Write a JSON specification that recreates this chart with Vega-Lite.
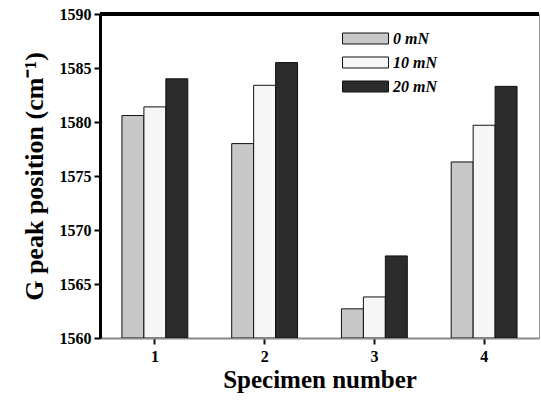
{
  "$schema": "https://vega.github.io/schema/vega-lite/v6.json",
  "width": 439,
  "height": 324,
  "autosize": {"type": "none"},
  "padding": {"left": 100, "top": 14, "right": 2, "bottom": 62},
  "background": "white",
  "config": {
    "view": {"stroke": "#999999", "strokeWidth": 1},
    "font": "Liberation Serif"
  },
  "data": {
    "values": [
      {"Specimen": "1", "Load": "0 mN", "G": 1580.6},
      {"Specimen": "1", "Load": "10 mN", "G": 1581.4},
      {"Specimen": "1", "Load": "20 mN", "G": 1584.0},
      {"Specimen": "2", "Load": "0 mN", "G": 1578.0},
      {"Specimen": "2", "Load": "10 mN", "G": 1583.4},
      {"Specimen": "2", "Load": "20 mN", "G": 1585.5},
      {"Specimen": "3", "Load": "0 mN", "G": 1562.7},
      {"Specimen": "3", "Load": "10 mN", "G": 1563.8},
      {"Specimen": "3", "Load": "20 mN", "G": 1567.6},
      {"Specimen": "4", "Load": "0 mN", "G": 1576.3},
      {"Specimen": "4", "Load": "10 mN", "G": 1579.7},
      {"Specimen": "4", "Load": "20 mN", "G": 1583.3}
    ]
  },
  "layer": [
    {
      "mark": {"type": "bar", "stroke": "#111111", "strokeWidth": 1, "clip": true},
      "encoding": {
        "x": {
          "field": "Specimen",
          "type": "ordinal",
          "scale": {"paddingInner": 0.4, "paddingOuter": 0.2},
          "axis": {
            "title": "Specimen number",
            "titleFont": "Liberation Serif",
            "titleFontSize": 25,
            "titleFontWeight": "bold",
            "titleColor": "#000000",
            "titlePadding": 3,
            "labelFont": "Liberation Serif",
            "labelFontSize": 16,
            "labelFontWeight": "bold",
            "labelColor": "#000000",
            "labelAngle": 0,
            "labelPadding": 4,
            "domainColor": "#888888",
            "domainWidth": 2,
            "tickColor": "#111111",
            "tickWidth": 2,
            "tickSize": 6
          }
        },
        "xOffset": {
          "field": "Load",
          "type": "nominal",
          "sort": ["0 mN", "10 mN", "20 mN"],
          "scale": {"paddingInner": 0, "paddingOuter": 0}
        },
        "y": {
          "field": "G",
          "type": "quantitative",
          "scale": {"domain": [1560, 1590], "zero": false, "nice": false},
          "axis": {
            "title": "G peak position (cm⁻¹)",
            "titleFont": "Liberation Serif",
            "titleFontSize": 26,
            "titleFontWeight": "bold",
            "titleColor": "#000000",
            "titlePadding": 12,
            "values": [1560, 1565, 1570, 1575, 1580, 1585, 1590],
            "format": "d",
            "labelFont": "Liberation Serif",
            "labelFontSize": 16,
            "labelFontWeight": "bold",
            "labelColor": "#000000",
            "labelPadding": 3,
            "domainColor": "#000000",
            "domainWidth": 3,
            "tickColor": "#000000",
            "tickWidth": 2,
            "tickSize": 6,
            "grid": false
          }
        },
        "y2": {"datum": 1560},
        "color": {
          "field": "Load",
          "type": "nominal",
          "sort": ["0 mN", "10 mN", "20 mN"],
          "scale": {
            "domain": ["0 mN", "10 mN", "20 mN"],
            "range": ["#c8c8c8", "#f6f6f6", "#2c2c2c"]
          },
          "legend": {
            "title": null,
            "orient": "none",
            "legendX": 268,
            "legendY": 14,
            "symbolType": "M-3.6,-0.55H1V0.55H-3.6Z",
            "symbolSize": 400,
            "symbolStrokeColor": "#111111",
            "symbolStrokeWidth": 1,
            "symbolOpacity": 1,
            "labelFont": "Liberation Serif",
            "labelFontSize": 16,
            "labelFontWeight": "bold",
            "labelFontStyle": "italic",
            "labelColor": "#000000",
            "labelOffset": 4,
            "rowPadding": 5
          }
        }
      }
    },
    {
      "mark": {"type": "rule", "color": "#000000", "strokeWidth": 3},
      "encoding": {"y": {"datum": 1590}}
    }
  ]
}
